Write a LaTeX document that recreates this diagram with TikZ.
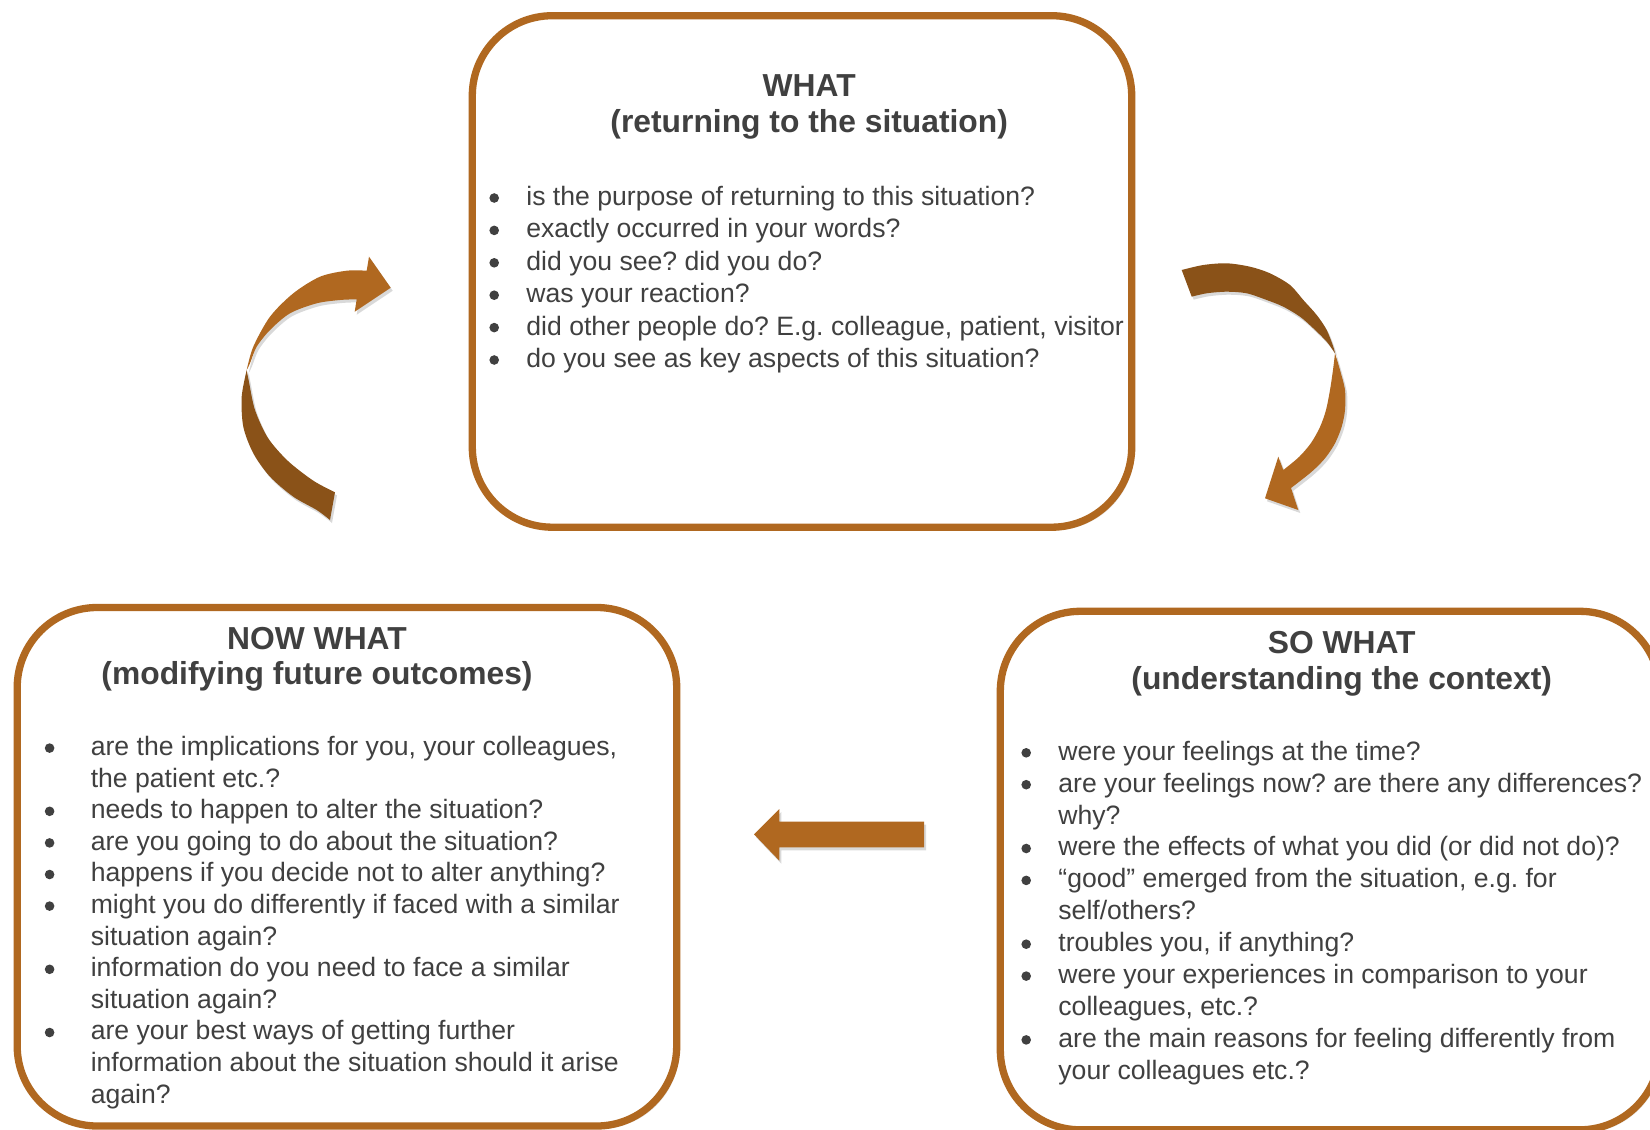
\documentclass[tikz,border=0pt]{standalone}
\usepackage{fontspec}
\setmainfont{Liberation Sans}
\usetikzlibrary{shadows}
\definecolor{brownA}{RGB}{176,104,32}
\definecolor{brownB}{RGB}{138,82,24}
\definecolor{txt}{RGB}{64,64,64}
\newlength\bind
\newcommand\bdot{\hspace{0pt}\tikz[baseline=0pt]\fill[txt] (0,3.7pt) circle (2.4pt);}
\newcommand\bitem[1]{\par\noindent\hangindent=\bind\hangafter=1\makebox[\bind][l]{\bdot}#1}
\newcommand\blist[3]{\parbox[t]{420pt}{\fontsize{13.3pt}{#1}\selectfont\frenchspacing\setlength\bind{#2}\setlength\parskip{0pt}\setlength\parindent{0pt}\raggedright #3}}
\newcommand\arrowLdark{plot[smooth] coordinates {(330,520) (316.7,510) (293.3,496.7) (270,476.7) (253.3,453.3) (243.3,426.7) (241.7,396.7) (246.7,370)} -- plot[smooth] coordinates {(246.7,370) (249,382) (255,410) (268,438) (288,461) (313.3,480.7) (335,492.3)} -- cycle}
\newcommand\arrowLlight{plot[smooth] coordinates {(246.7,370) (253.3,346.7) (270,316.7) (293.3,293.3) (320,276.7) (346.7,270.7) (366.7,270.7)} -- (369,256.7) -- (390.7,287.7) -- (354.7,311.7) -- plot[smooth] coordinates {(356.7,299.3) (340,300) (316.7,303.3) (290,313.3) (270,330) (256.7,346.7) (250,363.3) (246.7,370)} -- cycle}
\newcommand\arrowRdark{plot[smooth] coordinates {(1181.7,270) (1203.3,265) (1226.7,263.3) (1250,266.7) (1270,273.3) (1290,285) (1303.3,300) (1316.7,315) (1326.7,330) (1333.3,346.7) (1335,353.3)} -- plot[smooth] coordinates {(1335,353.3) (1326.7,341.7) (1313.3,328.3) (1300,316.7) (1283.3,306.7) (1266.7,300) (1246.7,293.3) (1226.7,291.7) (1206.7,293.3) (1191.7,296.7)} -- cycle}
\newcommand\arrowRlight{plot[smooth] coordinates {(1335,353.3) (1340,370) (1345,390) (1345,410) (1341.7,426.7) (1335,443.3) (1325,458.3) (1311.7,471.7) (1291,488)} -- (1298.3,510) -- (1265,498.3) -- (1278.3,456.7) -- plot[smooth] coordinates {(1283.3,470) (1299,457) (1311,443) (1320,427) (1326,410) (1330,390) (1333,370) (1335,353.3)} -- cycle}
\newcommand\arrowS{(924,821.7) -- (779.3,821.7) -- (779.3,809) -- (754,834.3) -- (779.3,860.7) -- (779.3,847.3) -- (924,847.3) -- cycle}
\begin{document}
\begin{tikzpicture}[x=0.5pt,y=-0.5pt,
  box/.style={draw=brownA, line width=3.65pt, fill=white, rounded corners=40pt, inner sep=0pt,
    drop shadow={opacity=0.18, shadow xshift=1.5pt, shadow yshift=-1.5pt}},
  ttl/.style={anchor=base, inner sep=0pt, text=txt, font=\fontsize{15.9pt}{19pt}\selectfont\bfseries},
  body/.style={anchor=base west, inner sep=0pt, text=txt},
  shd/.style={fill=black, opacity=0.15}]
\useasboundingbox (0,0) rectangle (1650,1130);
\clip (0,0) rectangle (1650,1130);
\fill[white] (0,0) rectangle (1650,1130);
% boxes
\node[box, minimum width=329.7pt, minimum height=255.75pt] (what) at (802,271.45) {};
\node[box, minimum width=329.75pt, minimum height=259.25pt] (now) at (346.95,866.75) {};
\node[box, minimum width=329.75pt, minimum height=259.25pt] (so) at (1330.05,870.55) {};
% titles
\node[ttl] (whatT) at (809.2,96) {WHAT};
\node[ttl] (whatS) at (809.2,132.7) {(returning to the situation)};
\node[ttl] (nowT) at (317,649) {NOW WHAT};
\node[ttl] (nowS) at (317,684) {(modifying future outcomes)};
\node[ttl] (soT) at (1341.7,653.4) {SO WHAT};
\node[ttl] (soS) at (1341.7,689.5) {(understanding the context)};
% bodies
\node[body] (whatB) at (489,205.4) {\blist{16.2pt}{18.5pt}{%
\bitem{is the purpose of returning to this situation?}
\bitem{exactly occurred in your words?}
\bitem{did you see? did you do?}
\bitem{was your reaction?}
\bitem{did other people do? E.g. colleague, patient, visitor}
\bitem{do you see as key aspects of this situation?}}};
\node[body] (nowB) at (44.4,755.5) {\blist{15.8pt}{23pt}{%
\bitem{are the implications for you, your colleagues,\newline the patient etc.?}
\bitem{needs to happen to alter the situation?}
\bitem{are you going to do about the situation?}
\bitem{happens if you decide not to alter anything?}
\bitem{might you do differently if faced with a similar\newline situation again?}
\bitem{information do you need to face a similar\newline situation again?}
\bitem{are your best ways of getting further\newline information about the situation should it arise\newline again?}}};
\node[body] (soB) at (1021,760.2) {\blist{15.95pt}{18.5pt}{%
\bitem{were your feelings at the time?}
\bitem{are your feelings now? are there any differences?\newline why?}
\bitem{were the effects of what you did (or did not do)?}
\bitem{“good” emerged from the situation, e.g. for\newline self/others?}
\bitem{troubles you, if anything?}
\bitem{were your experiences in comparison to your\newline colleagues, etc.?}
\bitem{are the main reasons for feeling differently from\newline your colleagues etc.?}}};
% arrow shadows
\begin{scope}[shift={(2,3)}]
\fill[shd] \arrowLdark;
\fill[shd] \arrowLlight;
\fill[shd] \arrowRdark;
\fill[shd] \arrowRlight;
\fill[shd] \arrowS;
\end{scope}
% arrows
\fill[brownB] \arrowLdark;
\fill[brownA] \arrowLlight;
\fill[brownB] \arrowRdark;
\fill[brownA] \arrowRlight;
\fill[brownA] \arrowS;
\end{tikzpicture}
\end{document}
